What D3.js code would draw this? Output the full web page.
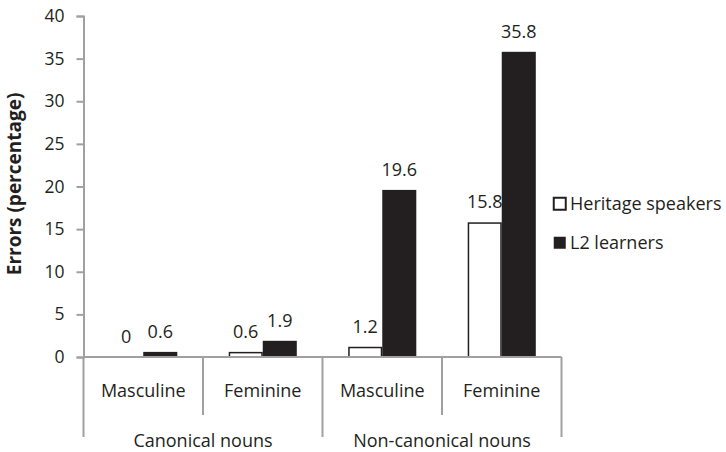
<!DOCTYPE html>
<html>
<head>
<meta charset="utf-8">
<script src="https://cdn.jsdelivr.net/npm/d3@7/dist/d3.min.js"></script>
<style>
  body { margin: 0; background: #fff; }
  text { font-family: "Open Sans", "Noto Sans", sans-serif; fill: #231f20; }
</style>
</head>
<body>
<svg id="canvas" width="726" height="452"></svg>
<script>
// data
const groups = ["Canonical nouns", "Non-canonical nouns"]
const genders = ["Masculine", "Feminine"]
const seriesNames = ["Heritage speakers", "L2 learners"]
const heritage = [0, 0.6, 1.2, 15.8]
const l2 = [0.6, 1.9, 19.6, 35.8]
const yTicks = [0, 5, 10, 15, 20, 25, 30, 35, 40]

const axisColor = "#a0a0a0"
const fills = ["#ffffff", "#231f20"]

const svg = d3.select("#canvas")

// categories: group x gender
const cats = []
groups.forEach(g => genders.forEach(s => cats.push(g + "|" + s)))

const x = d3.scaleBand()
  .domain(cats)
  .range([83.5, 561.5])
  .paddingInner(0)
  .paddingOuter(0)

const inner = d3.scaleBand()
  .domain(seriesNames)
  .range([0, x.bandwidth()])
  .paddingInner(0)
  .paddingOuter(0.755)

const y = d3.scaleLinear()
  .domain([0, 40])
  .range([357, 16])

// y axis
const yAxis = svg.append("g")
  .attr("transform", "translate(83.5,0)")
  .call(d3.axisLeft(y).tickValues(yTicks).tickSize(7).tickPadding(12))
yAxis.select(".domain").attr("stroke", axisColor).attr("stroke-width", 2)
yAxis.selectAll(".tick line").attr("stroke", axisColor).attr("stroke-width", 2)
yAxis.selectAll(".tick text")
  .attr("font-size", 17.5)
  .attr("font-family", "Open Sans")
  .attr("fill", "#231f20")

// y title
svg.append("text")
  .attr("transform", "translate(21," + y(20.3) + ") rotate(-90)")
  .attr("text-anchor", "middle")
  .attr("font-size", 19)
  .attr("font-weight", "bold")
  .text("Errors (percentage)")

// bars
const rows = cats.map((c, i) => ({cat: c, vals: [heritage[i], l2[i]]}))

const barG = svg.append("g")
rows.forEach(r => {
  r.vals.forEach((v, j) => {
    const bx = x(r.cat) + inner(seriesNames[j])
    barG.append("rect")
      .attr("x", bx + (j == 0 ? 0.75 : 0))
      .attr("y", y(v) + (j == 0 ? 0.75 : 0))
      .attr("width", inner.bandwidth() - (j == 0 ? 1.5 : 0))
      .attr("height", Math.max(0, y(0) - y(v) - (j == 0 ? 0.75 : 0)))
      .attr("fill", fills[j])
      .attr("stroke", j == 0 && v > 0 ? "#231f20" : "none")
      .attr("stroke-width", 1.5)
    barG.append("text")
      .attr("x", bx + inner.bandwidth() / 2)
      .attr("y", y(v) - 14)
      .attr("text-anchor", "middle")
      .attr("font-size", 18)
      .text(v)
  })
})

// x axis line
svg.append("line")
  .attr("x1", 83.5).attr("x2", 561.5)
  .attr("y1", y(0)).attr("y2", y(0))
  .attr("stroke", axisColor).attr("stroke-width", 2)

// category dividers
cats.forEach((c, i) => {
  const xl = x(c)
  const isOuter = i % genders.length == 0
  svg.append("line")
    .attr("x1", xl).attr("x2", xl)
    .attr("y1", y(0)).attr("y2", isOuter ? 437 : 415)
    .attr("stroke", axisColor).attr("stroke-width", 2)
  svg.append("text")
    .attr("x", xl + x.bandwidth() / 2)
    .attr("y", 397)
    .attr("text-anchor", "middle")
    .attr("font-size", 18)
    .text(c.split("|")[1])
})
svg.append("line")
  .attr("x1", 561.5).attr("x2", 561.5)
  .attr("y1", y(0)).attr("y2", 437)
  .attr("stroke", axisColor).attr("stroke-width", 2)

groups.forEach((g, i) => {
  const x0 = x(g + "|" + genders[0])
  svg.append("text")
    .attr("x", x0 + x.bandwidth())
    .attr("y", 447)
    .attr("text-anchor", "middle")
    .attr("font-size", 18)
    .text(g)
})

// legend
const legend = svg.append("g").attr("transform", "translate(553,197)")
seriesNames.forEach((s, i) => {
  const ly = i * 39
  legend.append("rect")
    .attr("x", 0.75).attr("y", ly + 0.75)
    .attr("width", 12).attr("height", 12)
    .attr("fill", fills[i])
    .attr("stroke", i == 0 ? "#231f20" : "none")
    .attr("stroke-width", 2)
  legend.append("text")
    .attr("x", 17).attr("y", ly + 12.5)
    .attr("font-size", 18)
    .text(s)
})
</script>
</body>
</html>
